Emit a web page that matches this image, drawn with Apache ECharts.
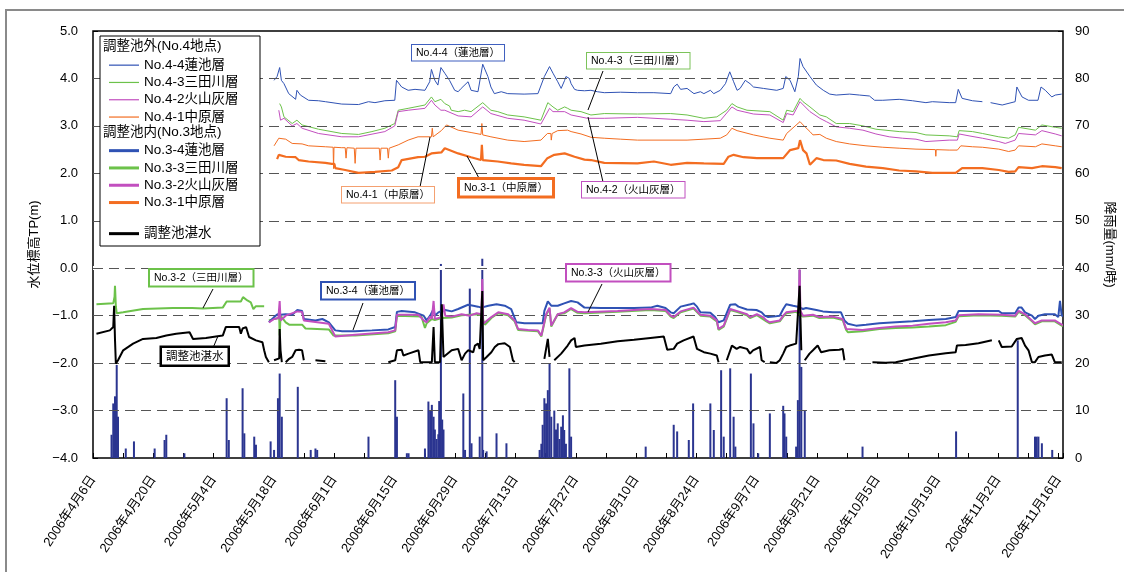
<!DOCTYPE html>
<html>
<head>
<meta charset="utf-8">
<script src="https://cdn.jsdelivr.net/npm/echarts@6/dist/echarts.min.js"></script>
<style>
html,body{margin:0;padding:0;background:#fff;}
#chart{width:1124px;height:572px;}
</style>
</head>
<body>
<div id="chart"></div>
<script>
// Day 0 = 2006-04-06; x values are days since then.
const dateLabels = ['2006年4月6日','2006年4月20日','2006年5月4日','2006年5月18日','2006年6月1日','2006年6月15日',
  '2006年6月29日','2006年7月13日','2006年7月27日','2006年8月10日','2006年8月24日','2006年9月7日',
  '2006年9月21日','2006年10月5日','2006年10月19日','2006年11月2日','2006年11月16日'];
// horizontal reference levels, TP m
const gridLevels = [-3, -2, -1, 0, 1, 2, 3, 4];

// 調整池外 (No.4地点) water levels, TP m
const no44 = [[42.0,3.96],[42.7,4.04],[43.3,4.23],[43.7,3.96],[44.3,3.89],[45.4,3.68],[47.0,3.56],[47.3,3.75],[48.1,3.65],[50.0,3.54],[52.3,3.53],[53.9,3.51],[57.7,3.46],[61.6,3.45],[63.9,3.51],[65.4,3.49],[67.7,3.53],[70.0,3.54],[70.4,3.96],[71.6,3.82],[73.1,3.75],[74.7,3.77],[77.0,3.75],[78.1,3.93],[78.5,4.19],[79.3,3.96],[80.0,3.86],[80.7,4.23],[81.6,4.11],[82.7,3.96],[83.9,3.75],[84.7,3.72],[85.4,3.79],[87.0,3.93],[87.7,3.75],[89.3,3.72],[90.4,4.30],[91.6,4.04],[92.3,3.82],[93.1,3.68],[94.7,3.72],[96.2,3.68],[100.0,3.67],[103.2,3.68],[104.7,4.04],[105.9,4.25],[106.7,4.11],[107.8,3.93],[108.6,3.79],[109.4,3.96],[109.7,4.04],[110.5,4.00],[110.9,3.89],[111.7,3.77],[112.4,3.75],[114.0,3.74],[115.5,3.75],[117.0,3.72],[118.6,3.70],[122.4,3.71],[126.3,3.70],[130.1,3.70],[134.0,3.68],[134.7,3.82],[135.5,3.88],[136.3,3.77],[137.8,3.79],[139.4,3.68],[140.9,3.72],[141.7,3.68],[143.2,3.75],[144.0,3.68],[145.5,3.75],[146.7,3.89],[147.7,4.14],[148.6,3.93],[149.4,3.75],[150.1,3.79],[151.3,3.96],[152.4,3.89],[153.2,3.82],[155.5,3.79],[158.6,3.75],[160.1,3.79],[160.7,4.04],[161.7,3.96],[162.8,3.72],[163.6,4.04],[164.0,4.42],[164.7,4.25],[166.3,4.04],[167.8,3.86],[169.4,3.75],[170.9,3.67],[172.4,3.65],[175.5,3.67],[177.8,3.65],[180.1,3.63],[181.3,3.54],[183.2,3.54],[187.0,3.56],[190.1,3.53],[193.2,3.49],[194.7,3.51],[198.6,3.49],[200.1,3.49],[200.7,3.77],[201.6,3.58],[204.0,3.53],[206.3,3.51],[206.4,null],[208.2,3.49],[210.9,3.44],[213.9,3.51],[214.3,3.82],[215.5,3.61],[217.0,3.54],[219.2,3.54],[219.9,3.82],[220.9,3.75],[222.4,3.61],[223.2,3.65],[224.7,3.67]];
const no43 = [[43.3,3.47],[43.7,3.40],[44.3,3.19],[46.2,3.05],[47.3,3.12],[48.5,3.02],[52.3,2.93],[57.7,2.84],[61.6,2.82],[64.7,2.88],[67.7,2.95],[70.0,3.05],[70.8,3.33],[73.1,3.37],[77.0,3.44],[78.5,3.61],[79.3,3.51],[80.7,3.56],[81.6,3.47],[82.7,3.42],[83.1,3.33],[84.7,3.30],[86.2,3.33],[87.7,3.30],[90.4,3.49],[92.3,3.33],[93.9,3.30],[96.2,3.23],[100.0,3.19],[103.9,3.12],[105.5,3.49],[106.7,3.40],[107.8,3.33],[109.4,3.40],[110.1,3.37],[110.9,3.33],[113.2,3.30],[115.5,3.23],[118.6,3.26],[126.3,3.25],[134.0,3.26],[137.8,3.23],[141.7,3.16],[144.7,3.19],[147.0,3.33],[148.2,3.47],[149.4,3.40],[151.7,3.33],[157.0,3.30],[160.1,3.12],[160.9,3.33],[162.4,3.30],[164.0,3.58],[164.7,3.51],[166.3,3.40],[168.6,3.23],[170.1,3.19],[172.4,3.05],[175.5,3.05],[178.6,3.00],[181.6,2.93],[187.0,2.88],[190.9,2.86],[193.2,2.81],[198.6,2.79],[200.5,2.77],[200.9,2.90],[204.0,2.88],[206.3,2.84],[210.1,2.77],[212.4,2.74],[213.9,2.81],[214.7,2.97],[218.6,2.91],[220.1,3.02],[223.2,2.97],[224.7,2.95]];
const no42 = [[43.1,3.33],[43.5,3.12],[44.3,3.16],[46.2,3.00],[47.3,3.05],[48.5,2.95],[52.3,2.84],[57.7,2.77],[61.6,2.77],[67.7,2.88],[70.0,3.00],[70.8,3.30],[73.1,3.33],[77.0,3.37],[78.5,3.54],[79.3,3.44],[80.7,3.33],[81.6,3.33],[84.7,3.21],[87.7,3.19],[90.4,3.40],[92.3,3.26],[96.2,3.16],[100.0,3.12],[103.9,3.04],[105.9,3.37],[106.7,3.30],[109.4,3.30],[110.9,3.23],[114.7,3.16],[118.6,3.16],[126.3,3.18],[134.0,3.14],[137.8,3.12],[141.7,3.09],[145.5,3.11],[148.2,3.40],[149.4,3.33],[153.2,3.25],[157.0,3.23],[160.1,3.07],[160.9,3.26],[162.4,3.23],[164.0,3.51],[166.3,3.30],[168.6,3.16],[170.1,3.09],[172.4,2.98],[175.5,2.95],[178.6,2.91],[181.6,2.83],[184.7,2.77],[187.8,2.74],[190.9,2.72],[193.2,2.67],[198.6,2.70],[200.5,2.70],[200.9,2.83],[203.2,2.79],[206.3,2.74],[210.1,2.67],[211.6,2.63],[213.9,2.70],[214.7,2.84],[218.6,2.81],[220.1,2.90],[223.2,2.83],[224.7,2.79]];
const no41 = [[42.0,2.58],[43.1,2.74],[44.7,2.72],[46.2,2.63],[48.5,2.62],[50.0,2.58],[53.9,2.56],[55.7,2.55],[55.8,2.10],[55.9,2.55],[57.7,2.54],[58.5,2.54],[58.7,2.32],[58.9,2.54],[60.6,2.53],[60.8,2.21],[61.0,2.53],[66.4,2.53],[66.6,2.28],[66.8,2.53],[68.3,2.53],[68.5,2.32],[68.7,2.53],[70.8,2.60],[73.1,2.70],[75.4,2.77],[78.5,2.77],[78.7,2.95],[78.9,2.77],[80.8,2.90],[82.0,3.02],[84.7,2.91],[87.7,2.86],[90.0,2.82],[90.2,3.05],[90.4,2.81],[92.3,2.77],[96.2,2.70],[100.0,2.67],[103.9,2.70],[105.4,2.84],[106.2,2.84],[106.3,2.70],[106.5,2.84],[107.8,2.90],[110.1,2.91],[110.9,2.88],[113.2,2.83],[115.5,2.76],[118.6,2.74],[122.4,2.72],[126.3,2.70],[137.8,2.70],[141.7,2.72],[145.5,2.74],[147.0,2.81],[148.2,2.95],[149.4,2.90],[153.2,2.81],[157.0,2.74],[160.1,2.70],[160.9,2.84],[164.0,3.09],[164.7,3.02],[166.3,2.88],[167.0,2.81],[168.6,2.82],[170.1,2.74],[172.4,2.67],[175.5,2.62],[179.3,2.58],[183.2,2.55],[187.0,2.53],[190.9,2.51],[195.4,2.50],[195.5,2.36],[195.6,2.50],[198.6,2.49],[200.5,2.49],[201.3,2.58],[204.0,2.56],[206.3,2.55],[210.1,2.51],[212.4,2.46],[213.9,2.49],[214.7,2.58],[218.6,2.56],[220.1,2.62],[223.2,2.58],[224.7,2.56]];

// 調整池内 (No.3地点) water levels, TP m
const no34 = [[40.8,-1.14],[42.0,-1.03],[42.8,-0.97],[43.5,-0.98],[44.7,-0.97],[46.2,-0.98],[47.4,-0.88],[48.5,-0.90],[48.9,-1.07],[51.6,-1.10],[53.2,-1.07],[54.7,-1.14],[56.2,-1.31],[57.8,-1.33],[60.8,-1.33],[64.7,-1.31],[68.5,-1.29],[70.1,-1.24],[70.5,-0.92],[71.6,-0.90],[74.7,-0.93],[76.7,-1.00],[77.4,-1.10],[78.2,-1.00],[79.0,-0.86],[79.3,-1.00],[80.1,-0.93],[80.9,-0.90],[81.7,-0.88],[83.2,-0.91],[84.7,-0.86],[87.0,-0.77],[88.2,-0.79],[89.3,-0.81],[90.1,-0.83],[91.7,-0.79],[93.6,-0.76],[95.5,-0.79],[97.0,-0.86],[98.2,-1.14],[100.1,-1.16],[104.3,-1.16],[104.7,-0.90],[105.5,-0.70],[106.3,-0.79],[107.8,-0.79],[109.3,-0.74],[110.9,-0.69],[112.4,-0.72],[114.0,-0.83],[117.8,-0.84],[125.5,-0.84],[129.3,-0.83],[130.9,-0.79],[132.8,-0.84],[134.0,-0.93],[134.7,-0.95],[136.3,-0.81],[138.6,-0.76],[139.3,-0.74],[140.1,-0.81],[140.9,-0.93],[143.2,-0.94],[144.3,-1.03],[145.1,-1.14],[146.3,-1.10],[147.8,-0.77],[149.0,-0.76],[149.7,-0.81],[151.7,-0.87],[153.9,-0.88],[155.1,-0.93],[155.8,-1.00],[156.6,-1.03],[157.8,-1.02],[159.3,-1.00],[160.1,-0.86],[160.8,-0.76],[162.4,-0.79],[163.5,-0.81],[164.7,-0.86],[165.4,-0.84],[167.8,-0.88],[169.3,-0.91],[171.6,-0.93],[173.5,-0.93],[174.3,-1.10],[175.1,-1.17],[177.0,-1.21],[179.3,-1.19],[182.4,-1.16],[186.2,-1.14],[190.1,-1.12],[193.9,-1.09],[197.8,-1.07],[200.1,-1.03],[200.8,-0.90],[205.4,-0.90],[210.1,-0.90],[210.8,-0.95],[213.9,-0.95],[214.7,-0.83],[215.4,-0.83],[216.2,-0.93],[217.8,-1.00],[218.5,-1.07],[219.3,-1.00],[220.8,-0.97],[223.1,-0.97],[223.9,-1.03],[224.3,-0.69],[224.7,-1.00],[225.0,-1.00]];
const no33 = [[0.8,-0.76],[4.7,-0.74],[5.0,-0.60],[5.1,-0.37],[5.3,-0.80],[5.5,-0.95],[7.0,-0.93],[11.6,-0.86],[18.5,-0.84],[23.0,-0.84],[23.2,-0.88],[25.5,-0.85],[30.1,-0.83],[31.0,-0.70],[34.3,-0.70],[34.8,-0.61],[35.8,-0.68],[36.6,-0.72],[37.2,-0.86],[37.8,-0.80],[39.7,-0.80],[40.2,null],[40.8,-1.10],[42.0,-1.07],[43.2,-1.05],[43.3,-1.42],[43.5,-1.00],[44.7,-1.14],[45.5,-1.19],[48.5,-1.19],[49.3,-1.27],[54.7,-1.29],[55.8,-1.42],[56.2,-1.45],[60.8,-1.42],[68.5,-1.37],[70.1,-1.33],[70.5,-1.00],[76.2,-1.02],[77.0,-1.26],[77.4,-1.16],[78.6,-1.07],[79.3,-1.09],[80.9,-1.05],[83.2,-1.04],[85.5,-0.99],[89.0,-0.97],[90.1,-0.99],[90.9,-1.19],[92.4,-1.05],[94.0,-0.95],[96.3,-0.99],[97.8,-1.12],[98.6,-1.30],[103.2,-1.33],[104.0,-1.44],[105.1,-0.99],[105.9,-0.85],[106.3,-1.23],[107.8,-0.97],[109.3,-0.95],[110.9,-0.86],[112.4,-0.94],[114.0,-0.95],[121.7,-0.92],[129.3,-0.88],[132.8,-0.90],[134.0,-1.02],[134.7,-1.05],[136.3,-0.93],[139.3,-0.85],[140.9,-1.00],[143.2,-1.02],[144.7,-1.12],[145.1,-1.30],[146.3,-1.23],[147.8,-0.88],[149.3,-0.92],[151.7,-0.99],[152.4,-1.05],[154.0,-0.99],[156.2,-1.12],[157.0,-1.16],[159.3,-1.12],[160.1,-1.02],[160.8,-0.95],[163.1,-0.92],[164.7,-1.02],[167.0,-1.00],[168.5,-1.05],[171.6,-1.04],[173.9,-1.09],[174.7,-1.30],[175.1,-1.35],[178.5,-1.33],[182.4,-1.28],[186.2,-1.26],[190.1,-1.25],[193.9,-1.23],[197.8,-1.20],[200.1,-1.13],[200.8,-1.01],[205.4,-0.99],[210.8,-1.00],[213.9,-1.02],[214.7,-0.92],[216.2,-0.99],[217.8,-1.12],[218.5,-1.18],[220.1,-1.12],[223.1,-1.12],[224.7,-1.21],[225.0,-1.21]];
const no32 = [[40.8,-1.14],[42.0,-1.07],[43.0,-1.05],[43.3,-0.69],[43.5,-1.10],[44.7,-1.00],[47.4,-0.91],[48.5,-0.92],[48.9,-1.10],[54.7,-1.17],[56.2,-1.44],[60.8,-1.40],[68.5,-1.35],[70.1,-1.31],[70.5,-0.98],[75.5,-0.98],[76.7,-1.10],[77.4,-1.14],[78.2,-1.02],[78.6,-1.07],[79.0,-0.69],[79.3,-1.07],[80.9,-1.03],[81.3,-0.76],[81.7,-1.00],[83.2,-1.02],[85.5,-0.97],[87.4,-1.00],[89.0,-0.95],[90.1,-0.97],[90.3,-0.23],[90.5,-1.17],[90.9,-1.17],[92.4,-1.03],[94.0,-0.93],[96.3,-0.97],[97.8,-1.10],[98.6,-1.28],[100.9,-1.30],[103.2,-1.31],[104.0,-1.42],[105.1,-0.97],[105.9,-0.83],[106.3,-1.21],[107.8,-0.97],[109.3,-0.93],[110.9,-0.84],[112.4,-0.92],[114.0,-0.93],[121.7,-0.90],[129.3,-0.86],[132.8,-0.88],[134.0,-1.00],[134.7,-1.03],[136.3,-0.91],[139.3,-0.83],[140.9,-0.98],[143.2,-1.00],[144.7,-1.10],[145.1,-1.28],[146.3,-1.21],[147.8,-0.86],[149.3,-0.90],[151.7,-0.97],[152.4,-1.03],[154.0,-0.97],[155.4,-1.03],[156.2,-1.10],[157.0,-1.14],[159.3,-1.10],[160.1,-1.00],[160.8,-0.93],[163.1,-0.90],[163.7,-0.90],[163.9,-0.02],[164.1,-0.90],[164.7,-1.00],[167.0,-0.98],[168.5,-1.03],[171.6,-1.02],[173.9,-1.07],[174.7,-1.28],[175.1,-1.31],[178.5,-1.30],[182.4,-1.26],[186.2,-1.23],[190.1,-1.21],[193.9,-1.17],[197.8,-1.14],[200.1,-1.10],[200.8,-0.99],[205.4,-0.97],[210.8,-0.98],[213.9,-1.00],[214.7,-0.90],[216.2,-0.97],[217.8,-1.10],[218.5,-1.16],[220.1,-1.10],[223.1,-1.10],[224.7,-1.19],[225.0,-1.19]];
const no31 = [[42.7,2.30],[43.1,2.39],[44.7,2.35],[47.0,2.34],[47.7,2.28],[50.0,2.25],[53.9,2.22],[55.4,2.20],[56.0,2.20],[56.2,2.11],[58.5,2.07],[61.6,2.01],[65.4,2.03],[69.3,2.06],[70.8,2.13],[71.6,2.28],[75.4,2.34],[77.0,2.35],[78.5,2.42],[80.8,2.44],[81.6,2.53],[84.7,2.42],[87.7,2.34],[90.0,2.28],[90.2,2.60],[90.4,2.28],[93.9,2.25],[97.0,2.21],[100.0,2.18],[103.9,2.15],[105.4,2.32],[107.0,2.39],[109.4,2.42],[111.7,2.35],[114.0,2.29],[115.5,2.28],[118.6,2.22],[126.3,2.21],[130.1,2.25],[134.0,2.18],[137.8,2.22],[141.7,2.21],[146.3,2.20],[147.4,2.35],[148.6,2.39],[150.9,2.34],[154.0,2.32],[160.1,2.32],[161.7,2.49],[163.6,2.53],[164.0,2.70],[164.7,2.49],[165.5,2.42],[166.3,2.18],[166.7,2.14],[167.8,2.32],[169.4,2.28],[172.4,2.27],[175.5,2.20],[179.3,2.14],[183.2,2.11],[187.0,2.06],[190.9,2.04],[194.7,2.01],[200.1,2.01],[201.6,2.11],[206.3,2.11],[210.1,2.07],[212.4,2.03],[213.9,2.04],[214.7,2.13],[217.8,2.11],[220.1,2.15],[223.2,2.13],[224.7,2.11]];

// 調整池湛水 (pond water level), TP m
const tansui = [[0.8,-1.38],[3.9,-1.31],[4.7,-1.24],[4.9,-0.79],[5.1,-1.50],[5.3,-2.01],[5.8,-1.94],[7.0,-1.73],[9.3,-1.59],[11.6,-1.49],[14.7,-1.47],[17.0,-1.42],[19.3,-1.38],[22.4,-1.35],[23.2,-1.49],[26.2,-1.47],[28.5,-1.44],[30.1,-1.42],[30.8,-1.24],[33.9,-1.24],[34.3,-1.38],[34.7,-1.27],[35.5,-1.24],[36.2,-1.45],[37.8,-1.52],[39.3,-1.56],[39.7,-1.73],[40.1,-1.87],[40.5,-1.87],[40.8,-1.98],[41.4,null],[42.0,-1.94],[43.2,-1.90],[43.3,-1.28],[43.5,-1.73],[43.8,-1.98],[44.2,null],[44.7,-1.98],[45.5,-1.91],[46.2,-1.87],[47.0,-1.73],[47.8,-1.72],[48.5,-1.73],[48.9,-1.94],[49.5,null],[51.6,-1.94],[53.9,-1.96],[54.5,null],[68.5,-1.98],[70.1,-1.94],[70.5,-1.73],[71.6,-1.72],[72.0,-1.84],[73.2,-1.80],[75.5,-1.73],[75.9,-1.98],[78.6,-1.98],[79.0,-1.24],[79.3,-1.98],[80.5,-1.98],[80.9,-0.76],[81.3,-1.87],[83.2,-1.73],[84.7,-1.70],[85.5,-1.94],[86.3,-1.80],[87.0,-1.73],[88.2,-1.77],[88.6,-1.63],[89.3,-1.59],[89.7,-1.70],[90.1,-1.73],[90.3,-0.48],[90.5,-1.94],[91.3,-1.87],[92.4,-1.77],[93.2,-1.66],[94.0,-1.60],[95.5,-1.58],[96.7,-1.66],[97.4,-1.94],[97.8,-1.98],[98.3,null],[104.7,-1.91],[105.5,-1.49],[105.9,-1.87],[106.4,null],[107.0,-1.94],[108.6,-1.80],[110.1,-1.63],[110.9,-1.52],[111.7,-1.47],[112.0,-1.66],[114.0,-1.63],[117.8,-1.59],[121.7,-1.54],[125.5,-1.51],[129.3,-1.47],[132.4,-1.44],[133.2,-1.72],[134.7,-1.70],[135.5,-1.59],[137.0,-1.52],[139.3,-1.44],[140.1,-1.70],[141.7,-1.77],[143.2,-1.80],[144.7,-1.84],[145.1,-1.98],[145.8,null],[147.0,-1.94],[148.2,-1.63],[149.3,-1.70],[150.1,-1.66],[151.7,-1.70],[152.4,-1.80],[153.1,-1.73],[154.7,-1.66],[155.1,-1.94],[155.8,-1.98],[156.4,null],[157.0,-1.98],[158.5,-2.00],[159.3,-1.94],[160.1,-1.80],[160.8,-1.66],[161.6,-1.63],[163.1,-1.59],[163.5,-1.56],[163.9,-0.37],[164.3,-1.73],[164.7,null],[165.1,-1.94],[166.2,-1.80],[167.0,-1.73],[168.1,-1.63],[168.9,-1.77],[170.8,-1.73],[173.1,-1.72],[173.9,-1.70],[174.3,-1.94],[174.8,null],[180.8,-1.98],[183.9,-1.99],[186.2,-1.98],[190.1,-1.91],[193.9,-1.84],[197.8,-1.79],[200.1,-1.77],[200.4,-1.63],[202.4,-1.62],[205.4,-1.58],[208.5,-1.52],[209.3,null],[210.1,-1.52],[210.8,-1.66],[213.1,-1.65],[214.3,-1.49],[215.4,-1.47],[216.2,-1.63],[217.0,-1.73],[217.8,-1.98],[218.5,-1.98],[219.3,-1.87],[220.8,-1.84],[222.4,-1.82],[223.1,-1.98],[224.7,-1.98]];

// 降雨量 (mm/時)
const rain = [[4.3,4.9],[4.7,11.5],[5.1,13],[5.5,19.6],[5.8,8.7],[7.6,2],[9.5,3.5],[14.3,2],[16.6,3.8],[17.0,4.9],[21.2,1],[31.0,12.6],[31.5,3.8],[34.7,14.7],[35.1,5.2],[37.4,4.5],[37.8,2.8],[41.2,3.5],[42.0,1.7],[42.9,12.6],[43.3,17.8],[43.8,8.7],[47.5,15],[50.5,1.7],[51.6,2],[52.0,1.7],[63.9,4.5],[70.1,16.4],[70.5,8.7],[72.8,1],[73.2,1],[77.0,2],[77.8,11.9],[78.2,10],[78.6,11.2],[79.0,8.7],[79.3,6],[79.7,4],[80.1,5],[80.3,12],[80.5,8],[80.7,40.9],[81.0,8.1],[81.3,6],[85.9,13.6],[86.3,1.7],[87.4,35.7],[87.8,3.1],[89.7,4.5],[90.3,42],[90.5,1.7],[91.3,1.4],[93.6,5.2],[95.9,3.1],[103.6,1.7],[104.0,3],[104.3,7],[104.7,12.6],[105.1,11.5],[105.5,14.3],[105.9,19.9],[106.3,8.7],[107.0,10],[107.4,6],[107.8,7.3],[108.2,4],[108.6,6.6],[109.0,9],[109.3,5.9],[109.7,3],[110.5,18.9],[110.9,4.5],[128.2,2.4],[134.7,7],[135.5,5.6],[138.2,3.8],[139.2,11.5],[143.2,11.5],[144.0,5.9],[145.7,18.5],[146.3,4.5],[147.8,18.9],[148.6,8.7],[149.0,2.4],[152.6,17.8],[153.2,7.3],[154.3,1],[157.0,9.4],[160.1,11],[160.4,9.4],[160.8,4.5],[163.1,2.4],[163.5,12.2],[163.9,40.2],[164.3,19.2],[165.1,10],[178.5,2.4],[200.2,5.6],[214.5,24.8],[218.5,4.5],[218.9,4.5],[219.3,4.5],[220.1,3.1],[222.5,1.7]];

const FONT = '"Liberation Sans", Arial, "Noto Sans CJK JP", sans-serif';
const C_BLUE = '#2f52b4', C_GREEN = '#6cc24a', C_PURPLE = '#c24fbf', C_ORANGE = '#f36d21', C_RAIN = '#2b3590';

function lineSeries(name, data, color, width, z) {
  return {
    name, type: 'line', data, xAxisIndex: 0, yAxisIndex: 0,
    showSymbol: false, symbol: 'none', z: z,
    itemStyle: { color }, lineStyle: { color, width }
  };
}

// Callout boxes with leader lines
const notes = [
  { text: 'No.4-4（蓮池層）', x: 412, y: 45, color: '#3f5fbf', bw: 1, line: null },
  { text: 'No.4-3（三田川層）', x: 587, y: 53, color: '#7cc35a', bw: 1, line: [603, 71, 588, 110] },
  { text: 'No.4-2（火山灰層）', x: 582, y: 182, color: '#c050c0', bw: 1, line: [603, 182, 588, 117] },
  { text: 'No.4-1（中原層）', x: 342, y: 187, color: '#f4a070', bw: 1, line: [420, 187, 430, 137] },
  { text: 'No.3-1（中原層）', x: 460, y: 180, color: C_ORANGE, bw: 3, line: [480, 180, 467, 156] },
  { text: 'No.3-2（三田川層）', x: 150, y: 270, color: C_GREEN, bw: 2, line: [213, 289, 203, 308] },
  { text: 'No.3-4（蓮池層）', x: 322, y: 283, color: C_BLUE, bw: 2, line: [363, 303, 353, 330] },
  { text: '調整池湛水', x: 162, y: 348, color: '#000', bw: 2.5, line: [213, 348, 218, 336] },
  { text: 'No.3-3（火山灰層）', x: 567, y: 265, color: C_PURPLE, bw: 2, line: [602, 284, 588, 312] }
];

const graphics = [
  { type: 'rect', silent: true, z: 0, shape: { x: 6, y: 10, width: 1140, height: 600 },
    style: { fill: 'none', stroke: '#8a8a8a', lineWidth: 2 } },
  { type: 'rect', silent: true, z: 50, shape: { x: 100, y: 36, width: 160, height: 210 },
    style: { fill: '#fff', stroke: '#000', lineWidth: 1 } },
  { type: 'text', silent: true, z: 51, x: 103, y: 46,
    style: { text: '調整池外(No.4地点)', font: '13.5px ' + FONT, fill: '#000', textVerticalAlign: 'middle' } },
  { type: 'text', silent: true, z: 51, x: 103, y: 132,
    style: { text: '調整池内(No.3地点)', font: '13.5px ' + FONT, fill: '#000', textVerticalAlign: 'middle' } }
];
notes.forEach(n => {
  if (n.line) {
    graphics.push({ type: 'line', silent: true, z: 40,
      shape: { x1: n.line[0], y1: n.line[1], x2: n.line[2], y2: n.line[3] },
      style: { stroke: '#000', lineWidth: 1 } });
  }
  graphics.push({ type: 'text', silent: true, z: 41, x: n.x, y: n.y,
    style: { text: n.text, font: (n.text === '調整池湛水' ? '11.5px ' : '10.5px ') + FONT, fill: '#000',
      backgroundColor: '#fff', borderColor: n.color, borderWidth: n.bw, padding: [3, 4, 2, 4] } });
});

const legendBase = {
  orient: 'vertical', left: 104, icon: 'rect', itemWidth: 30, itemGap: 0, z: 60,
  selectedMode: false, textStyle: { fontSize: 13.5, fontFamily: FONT, color: '#000', lineHeight: 17.3 }
};

const chart = echarts.init(document.getElementById('chart'), null, { renderer: 'canvas' });
chart.setOption({
  animation: false,
  backgroundColor: '#fff',
  textStyle: { fontFamily: FONT },
  grid: { left: 93, right: 56, top: 31, bottom: 114, show: true, borderColor: '#000', borderWidth: 1.5 },
  legend: [
    Object.assign({}, legendBase, { top: 51.5, itemHeight: 1.2,
      data: ['No.4-4蓮池層', 'No.4-3三田川層', 'No.4-2火山灰層', 'No.4-1中原層'] }),
    Object.assign({}, legendBase, { top: 137, itemHeight: 3,
      data: ['No.3-4蓮池層', 'No.3-3三田川層', 'No.3-2火山灰層', 'No.3-1中原層'] }),
    Object.assign({}, legendBase, { top: 220, itemHeight: 3, data: ['調整池湛水'] })
  ],
  xAxis: {
    type: 'value', min: 0, max: 225, interval: 7, position: 'bottom',
    axisLine: { show: false, onZero: false },
    axisTick: { inside: true, length: 5, lineStyle: { color: '#000' } },
    axisLabel: {
      rotate: 56, margin: 19, fontSize: 13, color: '#000', fontFamily: FONT,
      formatter: v => (v % 14 === 0 && dateLabels[v / 14]) ? dateLabels[v / 14] : ''
    },
    splitLine: { show: false }
  },
  yAxis: [
    {
      type: 'value', min: -4, max: 5, interval: 1, position: 'left',
      name: '水位標高TP(m)', nameLocation: 'middle', nameGap: 52,
      nameTextStyle: { fontSize: 13, color: '#000', fontFamily: FONT },
      axisLine: { show: false, onZero: false },
      axisTick: { show: true, inside: true, length: 5, lineStyle: { color: '#000' } },
      axisLabel: { fontSize: 13, color: '#000', margin: 15, formatter: v => v.toFixed(1).replace('-', '−') },
      splitLine: { show: false }
    },
    {
      type: 'value', min: 0, max: 90, interval: 10, position: 'right',
      name: '降雨量(mm/時)', nameLocation: 'middle', nameGap: 40, nameRotate: -90,
      nameTextStyle: { fontSize: 13, color: '#000', fontFamily: FONT },
      axisLine: { show: false, onZero: false },
      axisTick: { show: true, inside: true, length: 5, lineStyle: { color: '#000' } },
      axisLabel: { fontSize: 13, color: '#000', margin: 12 },
      splitLine: { show: false }
    }
  ],
  graphic: graphics,
  series: [
    // plain white band under the 0.0 m level, then the dashed reference lines on top of it
    { name: 'zeroBand', type: 'line', data: [], z: 1, silent: true,
      markLine: { silent: true, symbol: 'none', animation: false, label: { show: false },
        lineStyle: { type: 'solid', color: '#fff', width: 4 }, data: [{ yAxis: 0 }] } },
    { name: 'levels', type: 'line', data: [], z: 2, silent: true,
      markLine: { silent: true, symbol: 'none', animation: false, label: { show: false },
        lineStyle: { type: [10, 6], color: '#555', width: 1.2 },
        data: gridLevels.map(v => ({ yAxis: v })) } },
    { name: '降雨量', type: 'bar', data: rain, xAxisIndex: 0, yAxisIndex: 1, barWidth: 2,
      itemStyle: { color: C_RAIN }, z: 3 },
    lineSeries('No.4-4蓮池層', no44, C_BLUE, 1, 4),
    lineSeries('No.4-3三田川層', no43, C_GREEN, 1, 4),
    lineSeries('No.4-2火山灰層', no42, C_PURPLE, 1, 4),
    lineSeries('No.4-1中原層', no41, C_ORANGE, 1, 4),
    lineSeries('No.3-3三田川層', no33, C_GREEN, 2, 5),
    lineSeries('No.3-2火山灰層', no32, C_PURPLE, 2, 6),
    lineSeries('No.3-4蓮池層', no34, C_BLUE, 2, 5),
    lineSeries('No.3-1中原層', no31, C_ORANGE, 2.2, 5),
    lineSeries('調整池湛水', tansui, '#000', 2, 7)
  ]
});
</script>
</body>
</html>
